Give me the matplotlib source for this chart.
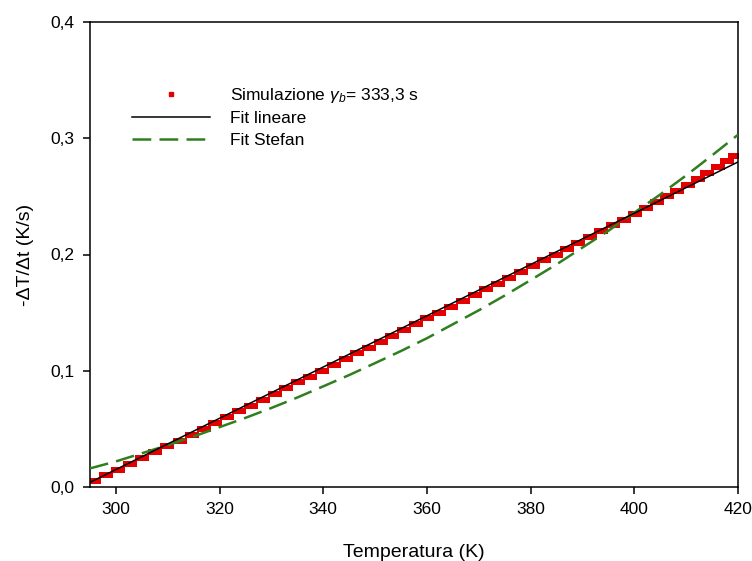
import numpy as np
import matplotlib
matplotlib.use('Agg')
import matplotlib.pyplot as plt
from matplotlib.lines import Line2D
from matplotlib.ticker import FuncFormatter

plt.rcParams['font.family'] = ['Liberation Sans', 'DejaVu Sans']
plt.rcParams['mathtext.fontset'] = 'custom'
plt.rcParams['mathtext.rm'] = 'Liberation Sans'
plt.rcParams['mathtext.it'] = 'Liberation Sans:italic'

# simulation steps (temperature K, -dT/dt K/s)
sim_T = [295.8, 298.0, 300.4, 302.7, 305.1, 307.5, 309.9, 312.3, 314.6, 316.9,
         319.2, 321.5, 323.8, 326.1, 328.4, 330.7, 332.9, 335.2, 337.5, 339.7,
         342.0, 344.3, 346.5, 348.8, 351.1, 353.3, 355.6, 357.9, 360.1, 362.4,
         364.7, 366.9, 369.2, 371.4, 373.7, 375.9, 378.2, 380.4, 382.6, 384.8,
         387.0, 389.2, 391.4, 393.6, 395.8, 398.0, 400.1, 402.2, 404.3, 406.3,
         408.3, 410.3, 412.2, 414.1, 416.1, 417.9, 419.5]
sim_y = [0.005, 0.010, 0.015, 0.020, 0.025, 0.030, 0.035, 0.040, 0.045, 0.050,
         0.055, 0.060, 0.065, 0.070, 0.075, 0.080, 0.085, 0.090, 0.095, 0.100,
         0.105, 0.110, 0.115, 0.120, 0.125, 0.130, 0.135, 0.140, 0.145, 0.150,
         0.155, 0.160, 0.165, 0.170, 0.175, 0.180, 0.185, 0.190, 0.195, 0.200,
         0.205, 0.210, 0.215, 0.220, 0.225, 0.230, 0.235, 0.240, 0.245, 0.250,
         0.255, 0.260, 0.265, 0.270, 0.275, 0.280, 0.285]

# linear fit
lin_T = [295, 420]
lin_y = [0.004, 0.2796]

# Stefan fit
stef_T = [295, 300, 305, 310, 315, 320, 325, 330, 335, 340, 345, 350, 355,
          360, 365, 370, 375, 380, 385, 390, 395, 400, 405, 410, 415, 420]
stef_y = [0.016, 0.022, 0.029, 0.036, 0.0435, 0.0515, 0.0595, 0.068, 0.077,
          0.0866, 0.0963, 0.1066, 0.117, 0.128, 0.140, 0.152, 0.1647, 0.178,
          0.1915, 0.206, 0.2204, 0.236, 0.2516, 0.268, 0.2853, 0.303]

fig = plt.figure(figsize=(7.52, 5.61), dpi=100)
ax = fig.add_axes([90/752, 74/561, 648/752, 465/561])

bar = [(-1.4, -0.5), (1.4, -0.5), (1.4, 0.5), (-1.4, 0.5), (-1.4, -0.5)]
ax.plot(sim_T, sim_y, linestyle='none', marker=bar, markersize=10.5,
        color='#e30000', markeredgewidth=0, zorder=2)
ax.plot(stef_T, stef_y, color='#2f7f1f', lw=1.8, dashes=(7.5, 3.3), zorder=3)
ax.plot(lin_T, lin_y, color='black', lw=1.1, zorder=4)

ax.set_xlim(295, 420)
ax.set_ylim(0, 0.4)
ax.set_xticks([300, 320, 340, 360, 380, 400, 420])
ax.set_yticks([0.0, 0.1, 0.2, 0.3, 0.4])
ax.yaxis.set_major_formatter(FuncFormatter(lambda v, p: f'{v:.1f}'.replace('.', ',')))
ax.tick_params(direction='out', length=5, width=1.1, labelsize=12.5, pad=6)
for s in ax.spines.values():
    s.set_linewidth(1.1)

ax.set_xlabel('Temperatura (K)', fontsize=14, labelpad=19)
ax.set_ylabel('-ΔT/Δt (K/s)', fontsize=14, labelpad=12)

handles = [Line2D([], [], linestyle='none', marker='s', markersize=3.5, color='#e30000'),
           Line2D([], [], color='black', lw=1.1),
           Line2D([], [], color='#2f7f1f', lw=1.8, dashes=(7.5, 3.3))]
labels = ['Simulazione $\\gamma_b$= 333,3 s', 'Fit lineare', 'Fit Stefan']
ax.legend(handles, labels, loc='upper left', bbox_to_anchor=(42/648, 0.862),
          frameon=False, fontsize=12.5, handlelength=4.5, handletextpad=1.15,
          borderpad=0, borderaxespad=0, labelspacing=0.35)

fig.savefig('out.png', dpi=100)
